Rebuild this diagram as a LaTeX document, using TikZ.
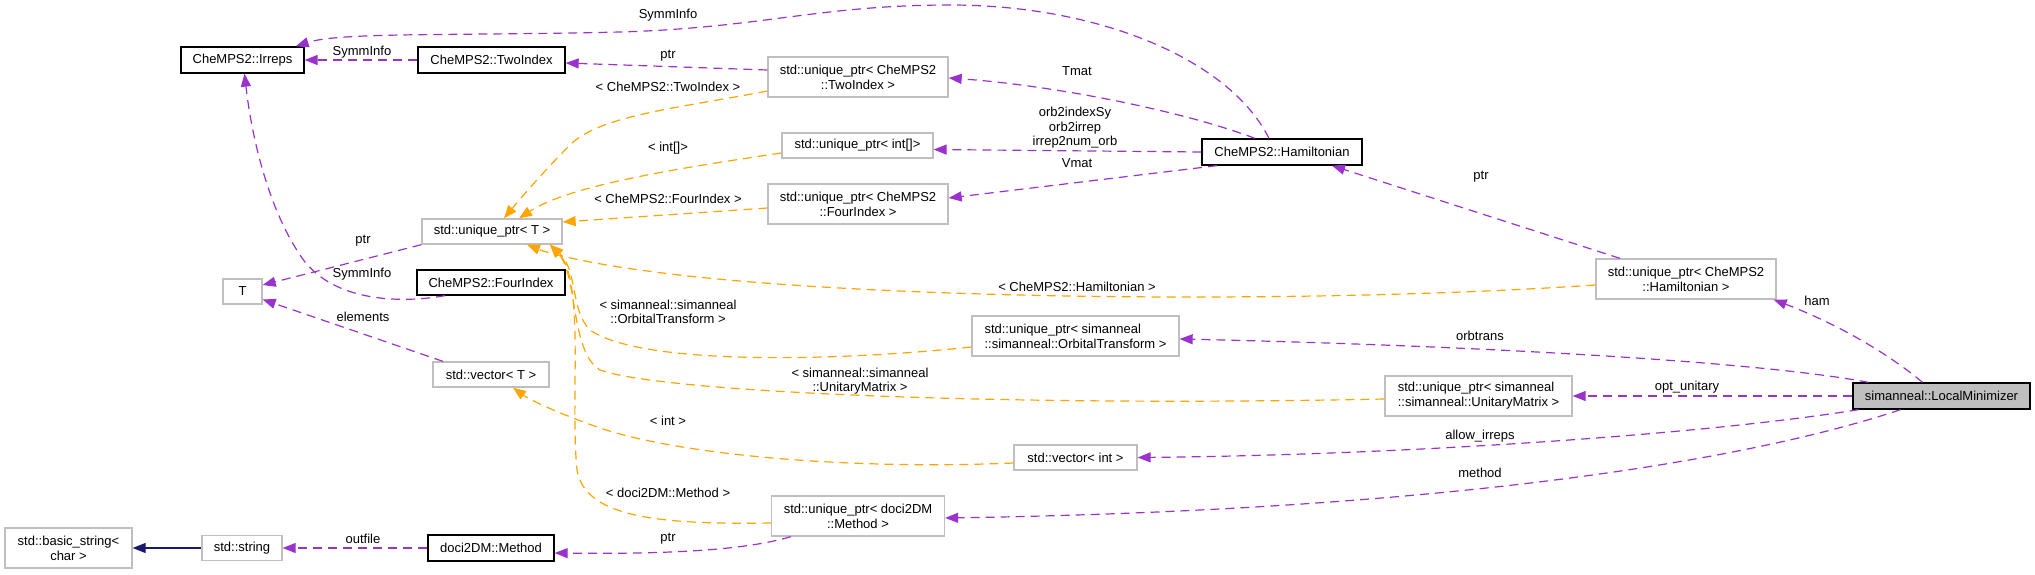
\documentclass[tikz,border=0pt]{standalone}
\usepackage{fontspec}
\setmainfont{Liberation Sans}
\usetikzlibrary{arrows.meta}
\definecolor{edgepurple}{HTML}{9A32CD}
\definecolor{edgeorange}{HTML}{FFA500}
\definecolor{midnight}{HTML}{191970}
\definecolor{grey75}{HTML}{BFBFBF}
\tikzset{
  cls/.style={draw=black, line width=1.3pt, rectangle, inner sep=0pt, align=center,
    font=\fontsize{13}{15}\selectfont},
  ext/.style={cls, draw=grey75},
  mainc/.style={cls, fill=grey75},
  uses/.style={edgepurple, line width=1.2pt, dash pattern=on 9pt off 6pt,
    -{Triangle[length=13pt,width=10pt]}},
  tmpl/.style={uses, edgeorange},
  inh/.style={midnight, line width=1.2pt, -{Triangle[length=13pt,width=10pt]}},
  lbl/.style={inner sep=0pt, align=center, font=\fontsize{13}{14.5}\selectfont},
}
\begin{document}
\begin{tikzpicture}[x=1pt, y=-1pt]
  \useasboundingbox (0,0) rectangle (2035,574);
  \node [cls, minimum width=123pt, minimum height=26pt] (irreps) at (242.5,60) {CheMPS2::Irreps};
  \node [cls, minimum width=147pt, minimum height=26pt] (twoidx) at (491.5,60) {CheMPS2::TwoIndex};
  \node [ext, minimum width=140pt, minimum height=25pt] (uptrT) at (492,231.5) {std::unique\_ptr< T >};
  \node [ext, minimum width=39pt, minimum height=25pt] (Tcls) at (242.5,291.5) {T};
  \node [cls, minimum width=148pt, minimum height=25pt] (fouridx) at (491,282.5) {CheMPS2::FourIndex};
  \node [ext, minimum width=116pt, minimum height=25pt] (vecT) at (491,374.5) {std::vector< T >};
  \node [ext, minimum width=127pt, minimum height=40pt] (basicstr) at (68.5,548) {std::basic\_string<\\char >};
  \node [ext, minimum width=80pt, minimum height=25pt] (stdstr) at (242,548) {std::string};
  \node [cls, minimum width=126pt, minimum height=26pt] (dmethod) at (491,548) {doci2DM::Method};
  \node [ext, minimum width=180pt, minimum height=40pt] (uptwo) at (858,77) {std::unique\_ptr< CheMPS2\\::TwoIndex >};
  \node [ext, minimum width=151pt, minimum height=25pt] (upint) at (857.5,145.5) {std::unique\_ptr< int[]>};
  \node [ext, minimum width=180pt, minimum height=40pt] (upfour) at (858,204) {std::unique\_ptr< CheMPS2\\::FourIndex >};
  \node [cls, minimum width=160pt, minimum height=26pt] (hamil) at (1282,152) {CheMPS2::Hamiltonian};
  \node [ext, minimum width=180pt, minimum height=40pt] (upham) at (1686,279) {std::unique\_ptr< CheMPS2\\::Hamiltonian >};
  \node [ext, align=left, minimum width=207pt, minimum height=40pt] (uporb) at (1075.5,336) {std::unique\_ptr< simanneal\\::simanneal::OrbitalTransform >};
  \node [ext, align=left, minimum width=187pt, minimum height=40pt] (upunit) at (1478.5,396) {std::unique\_ptr< simanneal\\::simanneal::UnitaryMatrix >};
  \node [ext, minimum width=123pt, minimum height=25pt] (vecint) at (1075.5,457.5) {std::vector< int >};
  \node [ext, minimum width=173pt, minimum height=40pt] (upmeth) at (858,516) {std::unique\_ptr< doci2DM\\::Method >};
  \node [mainc, minimum width=177pt, minimum height=26pt] (locmin) at (1941.5,396) {simanneal::LocalMinimizer};

  \draw [uses] ([xshift=-13pt]hamil.north) .. controls (1230,60) and (1100,5) .. (950,5)
    .. controls (820,5) and (760,28) .. (620,32) .. controls (450,36) and (340,32) .. ([xshift=-9pt]irreps.north east);
  \draw [uses] (twoidx) -- (irreps);
  \draw [uses] ([xshift=-46pt]fouridx.south) .. controls (410,302) and (340,305) .. (305,262)
    .. controls (270,215) and (252,140) .. ([xshift=2pt]irreps.south);
  \draw [uses] (uptrT.south west) -- ([yshift=6.5pt]Tcls.east);
  \draw [uses] ([xshift=-48pt]vecT.north) -- ([yshift=-8pt]Tcls.east);
  \draw [inh] (stdstr) -- (basicstr);
  \draw [uses] (dmethod) -- (stdstr);
  \draw [uses] ([xshift=20pt]upmeth.south west) .. controls (740,552) and (650,554) .. ([yshift=-5pt]dmethod.east);
  \draw [uses] ([yshift=7pt]uptwo.west) -- ([yshift=-3pt]twoidx.east);
  \draw [uses] ([xshift=-27pt]hamil.north) .. controls (1180,110) and (1050,85) .. ([yshift=-1pt]uptwo.east);
  \draw [uses] (hamil.west) -- ([yshift=-4pt]upint.east);
  \draw [uses] ([xshift=-65pt]hamil.south) -- ([yshift=6pt]upfour.east);
  \draw [uses] ([xshift=-66pt]upham.north) -- ([xshift=50pt]hamil.south);
  \draw [uses] ([xshift=-19pt]locmin.north) .. controls (1890,355) and (1840,325) .. ([xshift=-3pt]upham.south east);
  \draw [uses] ([xshift=-73pt]locmin.north) .. controls (1750,360) and (1450,345) .. ([yshift=-3pt]uporb.east);
  \draw [uses] (locmin) -- (upunit);
  \draw [uses] ([xshift=-83pt]locmin.south) .. controls (1700,435) and (1400,455) .. (vecint.east);
  \draw [uses] ([xshift=-41pt]locmin.south) .. controls (1750,460) and (1450,510) .. ([yshift=-2pt]upmeth.east);

  \draw [tmpl] ([yshift=-14pt]uptwo.west) .. controls (680,108) and (600,115) .. (570,145)
    .. controls (540,175) and (515,205) .. ([xshift=12pt]uptrT.north);
  \draw [tmpl] ([yshift=-7.5pt]upint.west) .. controls (680,168) and (570,185) .. ([xshift=27pt]uptrT.north);
  \draw [tmpl] ([yshift=-4pt]upfour.west) -- ([yshift=9.5pt]uptrT.east);
  \draw [tmpl] ([yshift=-6pt]upham.west) .. controls (1300,305) and (850,300) .. (640,270)
    .. controls (580,262) and (545,252) .. ([xshift=35pt]uptrT.south);
  \draw [tmpl] ([yshift=-11pt]uporb.west) .. controls (830,362) and (640,365) .. (590,330)
    .. controls (570,310) and (578,270) .. ([xshift=58pt]uptrT.south);
  \draw [tmpl] ([yshift=-3pt]upunit.west) .. controls (1000,407) and (660,392) .. (600,370)
    .. controls (570,352) and (578,275) .. ([xshift=58pt]uptrT.south);
  \draw [tmpl] ([yshift=-5.5pt]vecint.west) .. controls (850,470) and (680,455) .. (600,428)
    .. controls (560,414) and (530,400) .. ([xshift=22pt]vecT.south);
  \draw [tmpl] ([yshift=-7pt]upmeth.west) .. controls (650,525) and (585,515) .. (577,470)
    .. controls (570,400) and (585,280) .. ([xshift=58pt]uptrT.south);

  \node [lbl] (lsymmA) at (668,15) {SymmInfo};
  \node [lbl] (lsymmB) at (362,52) {SymmInfo};
  \node [lbl] (lsymmC) at (362,274) {SymmInfo};
  \node [lbl] (lptrT) at (363,241) {ptr};
  \node [lbl] (lelem) at (363,317) {elements};
  \node [lbl] (loutf) at (363,539) {outfile};
  \node [lbl] (lptrM) at (668,539) {ptr};
  \node [lbl] (lptrTwo) at (668,56) {ptr};
  \node [lbl] (ltmat) at (1077,71) {Tmat};
  \node [lbl] (lorbs) at (1075,128) {orb2indexSy\\orb2irrep\\irrep2num\_orb};
  \node [lbl] (lvmat) at (1077,163) {Vmat};
  \node [lbl] (lptrH) at (1481,177) {ptr};
  \node [lbl] (lham) at (1817,301) {ham};
  \node [lbl] (lorbt) at (1480,336) {orbtrans};
  \node [lbl] (lopt) at (1687,387) {opt\_unitary};
  \node [lbl] (lallow) at (1480,436) {allow\_irreps};
  \node [lbl] (lmeth) at (1480,473) {method};
  \node [lbl] (ltwo) at (668,87) {< CheMPS2::TwoIndex >};
  \node [lbl] (lint) at (668,148) {< int[]>};
  \node [lbl] (lfour) at (668,199) {< CheMPS2::FourIndex >};
  \node [lbl] (lhamT) at (1077,287) {< CheMPS2::Hamiltonian >};
  \node [lbl] (lorbT) at (668,312) {< simanneal::simanneal\\::OrbitalTransform >};
  \node [lbl] (lunitT) at (860,381) {< simanneal::simanneal\\::UnitaryMatrix >};
  \node [lbl] (lintv) at (668,421) {< int >};
  \node [lbl] (lmethT) at (668,493) {< doci2DM::Method >};
\end{tikzpicture}
\end{document}
